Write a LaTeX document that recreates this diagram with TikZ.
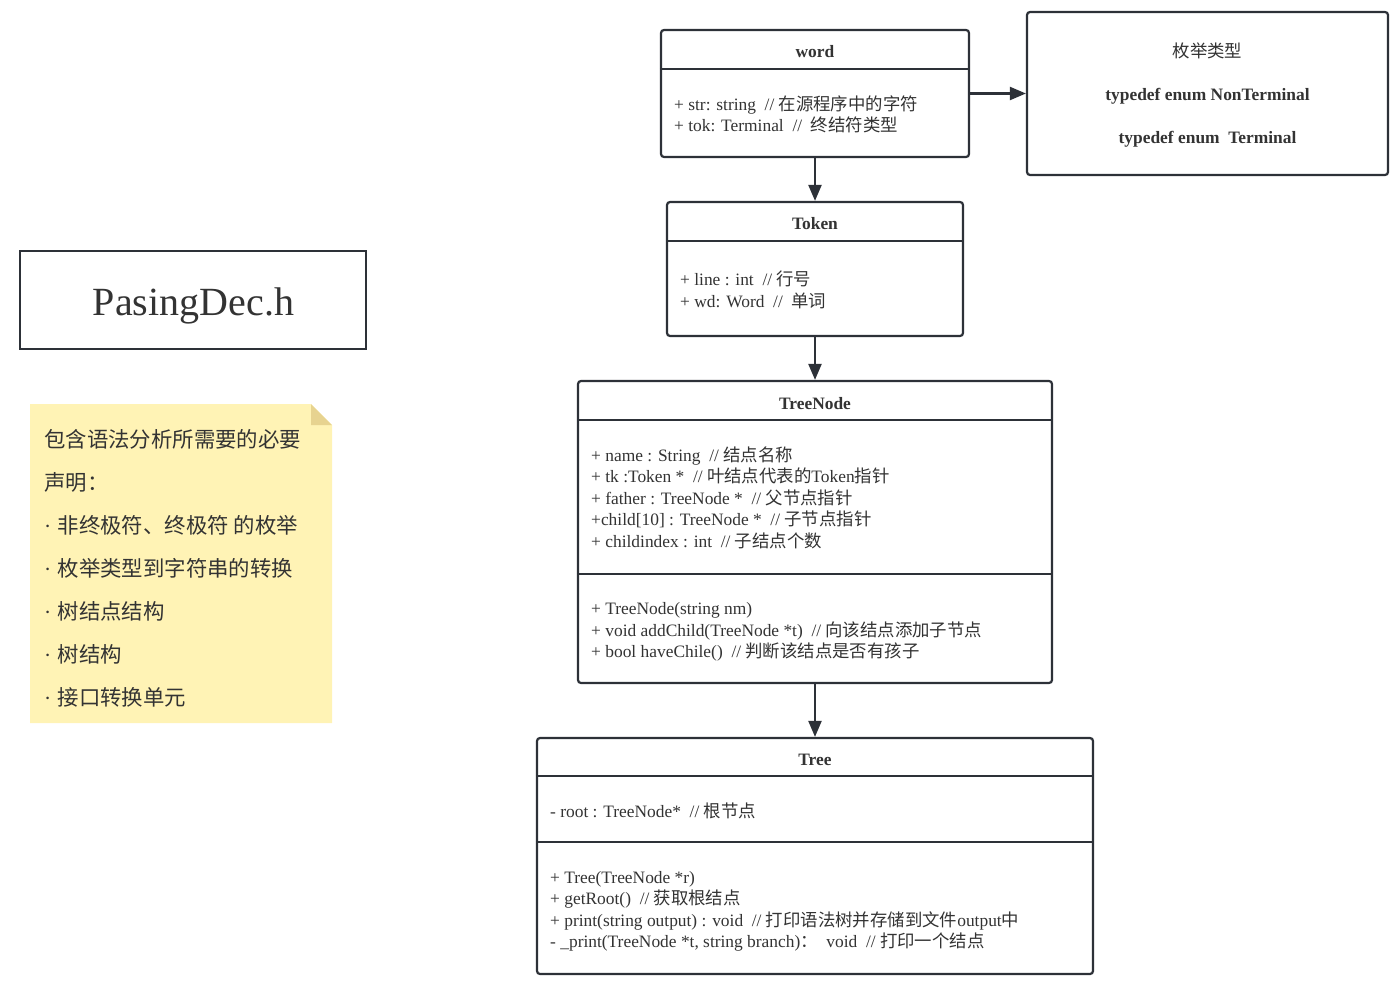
\documentclass[tikz,border=0pt]{standalone}
\usepackage{fontspec}
\setmainfont{Liberation Serif}
\newfontfamily\cjk{Noto Sans CJK SC}
\usetikzlibrary{arrows.meta}
\definecolor{txt}{HTML}{333333}
\definecolor{bord}{HTML}{2D3138}
\definecolor{notefill}{HTML}{FFF3B5}
\definecolor{notefold}{HTML}{E7D390}
\newcommand\zhtxt[1]{{\cjk #1}}
\begin{document}
\begin{tikzpicture}[x=1pt,y=-1pt,
 classbox/.style={draw=bord, line width=2.2pt, rounded corners=3pt, inner sep=0pt, fill=white},
 sepline/.style={draw=bord, line width=2.2pt},
 body/.style={anchor=base west, inner sep=0pt, text=txt, font=\fontsize{17.4}{20}\selectfont},
 titletext/.style={anchor=base, inner sep=0pt, text=txt, font=\fontsize{17.4}{20}\selectfont\bfseries},
 notetext/.style={anchor=base west, inner sep=0pt, text=txt, font=\fontsize{21.4}{24}\selectfont\cjk},
 link/.style={draw=bord, line width=2.2pt, -{Triangle[length=16pt,width=13pt]}},
]
\useasboundingbox (0,0) rectangle (1394,990);

% ---------- PasingDec.h ----------
\node[draw=bord, line width=2.8pt, inner sep=0pt, minimum width=346pt, minimum height=98pt] (hdr) at (193,300) {};
\node[anchor=base, inner sep=0pt, text=txt, font=\fontsize{40}{44}\selectfont] (hdrtext) at (193.5,315) {PasingDec.h};

% ---------- note ----------
\fill[notefill] (30,404) -- (311,404) -- (332,425) -- (332,723) -- (30,723) -- cycle;
\fill[notefold] (311,404) -- (332,425) -- (311,425) -- cycle;
\coordinate (note) at (181,563);
\node[notetext] (n1) at (44,447) {包含语法分析所需要的必要};
\node[notetext] (n2) at (44,490) {声明：};
\node[notetext] (n3) at (44,533) {{\rmfamily ·}\hspace{0.3em}非终极符、终极符 的枚举};
\node[notetext] (n4) at (44,576) {{\rmfamily ·}\hspace{0.3em}枚举类型到字符串的转换};
\node[notetext] (n5) at (44,619) {{\rmfamily ·}\hspace{0.3em}树结点结构};
\node[notetext] (n6) at (44,662) {{\rmfamily ·}\hspace{0.3em}树结构};
\node[notetext] (n7) at (44,705) {{\rmfamily ·}\hspace{0.3em}接口转换单元};

% ---------- word ----------
\node[classbox, minimum width=308pt, minimum height=127pt] (word) at (815,93.5) {};
\draw[sepline] ([yshift=-40pt]word.north west) -- ([yshift=-40pt]word.north east);
\node[titletext] (wordtitle) at (815,57) {word};
\node[body] (w1) at (674,110) {+ str: string~ // \zhtxt{在源程序中的字符}};
\node[body] (w2) at (674,131) {+ tok: Terminal~ //~ \zhtxt{终结符类型}};

% ---------- enum ----------
\node[classbox, minimum width=361pt, minimum height=163pt] (enum) at (1207.5,93.5) {};
\node[anchor=base, inner sep=0pt, text=txt, font=\fontsize{17.4}{20}\selectfont\cjk] (e1) at (1207.5,57) {枚举类型};
\node[titletext] (e2) at (1207.5,100) {typedef enum NonTerminal};
\node[titletext] (e3) at (1207.5,143) {typedef enum~ Terminal};

% ---------- Token ----------
\node[classbox, minimum width=296pt, minimum height=134pt] (token) at (815,269) {};
\draw[sepline] ([yshift=-40pt]token.north west) -- ([yshift=-40pt]token.north east);
\node[titletext] (tokentitle) at (815,229) {Token};
\node[body] (t1) at (680,285) {+ line : int~ // \zhtxt{行号}};
\node[body] (t2) at (680,307) {+ wd: Word~ //~ \zhtxt{单词}};

% ---------- TreeNode ----------
\node[classbox, minimum width=474pt, minimum height=302pt] (treenode) at (815,532) {};
\draw[sepline] ([yshift=-40pt]treenode.north west) -- ([yshift=-40pt]treenode.north east);
\draw[sepline] ([yshift=-194pt]treenode.north west) -- ([yshift=-194pt]treenode.north east);
\node[titletext] (tntitle) at (815,409) {TreeNode};
\node[body] (a1) at (591,461) {+ name : String~ // \zhtxt{结点名称}};
\node[body] (a2) at (591,482) {+ tk :Token *~ // \zhtxt{叶结点代表的}Token\zhtxt{指针}};
\node[body] (a3) at (591,504) {+ father : TreeNode *~ // \zhtxt{父节点指针}};
\node[body] (a4) at (591,525) {+child[10] : TreeNode *~ // \zhtxt{子节点指针}};
\node[body] (a5) at (591,547) {+ childindex : int~ // \zhtxt{子结点个数}};
\node[body] (m1) at (591,614) {+ TreeNode(string nm)};
\node[body] (m2) at (591,636) {+ void addChild(TreeNode *t)~ // \zhtxt{向该结点添加子节点}};
\node[body] (m3) at (591,657) {+ bool haveChile()~ // \zhtxt{判断该结点是否有孩子}};

% ---------- Tree ----------
\node[classbox, minimum width=556pt, minimum height=236pt] (tree) at (815,856) {};
\draw[sepline] ([yshift=-39pt]tree.north west) -- ([yshift=-39pt]tree.north east);
\draw[sepline] ([yshift=-105pt]tree.north west) -- ([yshift=-105pt]tree.north east);
\node[titletext] (treetitle) at (815,765) {Tree};
\node[body] (r1) at (550,817) {- root : TreeNode*~ // \zhtxt{根节点}};
\node[body] (f1) at (550,883) {+ Tree(TreeNode *r)};
\node[body] (f2) at (550,904) {+ getRoot()~ // \zhtxt{获取根结点}};
\node[body] (f3) at (550,926) {+ print(string output) : void~ // \zhtxt{打印语法树并存储到文件}output\zhtxt{中}};
\node[body] (f4) at (550,947) {- \_print(TreeNode *t, string branch)\zhtxt{：}~ void~ // \zhtxt{打印一个结点}};

% ---------- connectors ----------
\draw[link] (word.east) -- (enum.west);
\draw[link] (word.south) -- (token.north);
\draw[link] (token.south) -- (treenode.north);
\draw[link] (treenode.south) -- (tree.north);
\end{tikzpicture}
\end{document}
